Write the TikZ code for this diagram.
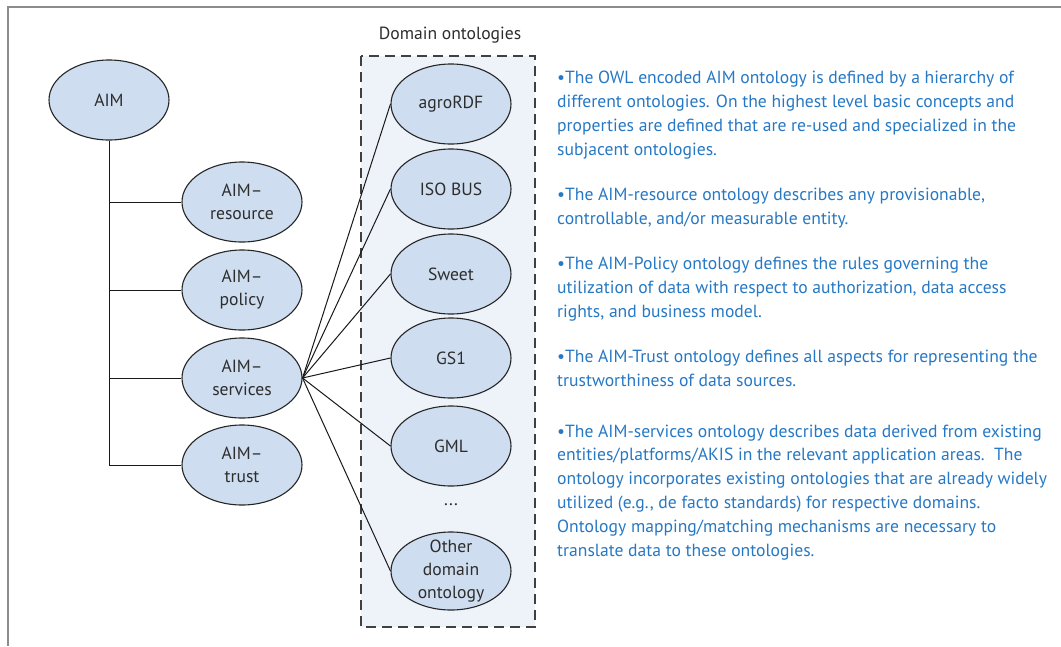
\documentclass[tikz,border=0pt]{standalone}
\usepackage{fontspec}
\setmainfont{PT Sans}
\usetikzlibrary{shapes.geometric}
\definecolor{framegray}{RGB}{140,140,140}
\definecolor{ontofill}{RGB}{206,221,239}
\definecolor{boxfill}{RGB}{238,242,249}
\definecolor{labelgray}{RGB}{45,45,45}
\definecolor{noteblue}{RGB}{38,120,196}
\tikzset{
  onto/.style={ellipse, draw=black!85, line width=1.1pt, fill=ontofill,
    minimum width=120, minimum height=80, inner sep=0pt},
  ontotext/.style={text=labelgray, align=center,
    font=\fontsize{17.6}{23}\selectfont},
  link/.style={draw=black!90, line width=1pt},
  % multi-line notes are placed by the baseline of their last line
  note/.style={text=noteblue, align=left, anchor=base west, inner sep=0pt,
    font=\fontsize{17.6}{23.8}\selectfont},
  domainbox/.style={draw=black!75, line width=1.2pt, dash pattern=on 10pt off 6pt,
    fill=boxfill}
}
\begin{document}
\begin{tikzpicture}[x=1pt,y=-1pt]
\useasboundingbox (0,0) rectangle (1061,646);
% frame
\draw[framegray, line width=2pt] (1061,7) -- (8,7) -- (8,646);

% domain ontologies group
\draw[domainbox] (361,56) rectangle (535,627);
\node[ontotext] (domtitle) at (450,35) {Domain ontologies};

% AIM hierarchy
\node[onto, label={[ontotext]center:AIM}] (aim) at (109,100) {};
\node[onto, label={[ontotext]center:AIM–\\resource}] (res) at (242,202) {};
\node[onto, label={[ontotext]center:AIM–\\policy}] (pol) at (242,290) {};
\node[onto, label={[ontotext]center:AIM–\\services}] (srv) at (242,378) {};
\node[onto, label={[ontotext]center:AIM–\\trust}] (tru) at (242,465) {};

\draw[link] (aim.south) |- (tru.west);
\draw[link] (aim.south |- res.west) -- (res.west);
\draw[link] (aim.south |- pol.west) -- (pol.west);
\draw[link] (aim.south |- srv.west) -- (srv.west);

% domain ontologies
\node[onto, label={[ontotext]center:agroRDF}] (agro) at (451,104) {};
\node[onto, label={[ontotext]center:ISO BUS}] (iso) at (451,189) {};
\node[onto, label={[ontotext]center:Sweet}] (sweet) at (451,274) {};
\node[onto, label={[ontotext]center:GS1}] (gs1) at (451,358) {};
\node[onto, label={[ontotext]center:GML}] (gml) at (451,446) {};
\node[ontotext] (dots) at (451,505) {...};
\node[onto, minimum height=78, label={[ontotext]center:Other\\domain\\ontology}] (other) at (451,571) {};

\foreach \d in {agro,iso,sweet,gs1,gml,other}
  \draw[link] (srv.east) -- (\d.west);

% notes
\node[note] (n1) at (557,155) {•The OWL encoded AIM ontology is defined by a hierarchy of\\
different ontologies. On the highest level basic concepts and\\
properties are defined that are re-used and specialized in the\\
subjacent ontologies.};
\node[note] (n2) at (557,224) {•The AIM-resource ontology describes any provisionable,\\
controllable, and/or measurable entity.};
\node[note] (n3) at (557,317) {•The AIM-Policy ontology defines the rules governing the\\
utilization of data with respect to authorization, data access\\
rights, and business model.};
\node[note] (n4) at (557,386) {•The AIM-Trust ontology defines all aspects for representing the\\
trustworthiness of data sources.};
\node[note] (n5) at (557,556) {•The AIM-services ontology describes data derived from existing\\
entities/platforms/AKIS in the relevant application areas.\ \ The\\
ontology incorporates existing ontologies that are already widely\\
utilized (e.g., de facto standards) for respective domains.\\
Ontology mapping/matching mechanisms are necessary to\\
translate data to these ontologies.};
\end{tikzpicture}
\end{document}
